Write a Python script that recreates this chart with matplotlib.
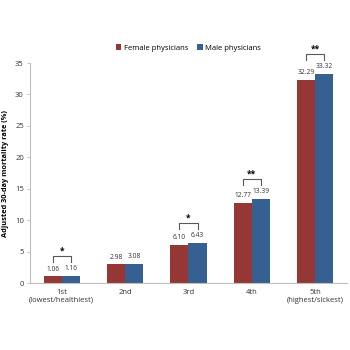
import matplotlib.pyplot as plt
import numpy as np

plt.rcParams['font.family'] = ['Open Sans', 'DejaVu Sans']

categories = ['1st\n(lowest/healthiest)', '2nd', '3rd', '4th', '5th\n(highest/sickest)']
female = [1.06, 2.98, 6.10, 12.77, 32.29]
male = [1.16, 3.08, 6.43, 13.39, 33.32]
# significance marks per quintile
stars = ['*', '', '*', '**', '**']

red = '#953735'
blue = '#376092'
grey = '#595959'

fig = plt.figure(figsize=(3.5, 3.5), dpi=100)
ax = fig.add_axes([0.086, 0.191, 0.905, 0.629])

x = np.arange(len(categories))
w = 0.285
ax.bar(x - w / 2, female, w, color=red, label='Female physicians')
ax.bar(x + w / 2, male, w, color=blue, label='Male physicians')

for i in range(len(x)):
    ax.text(x[i] - w / 2, female[i] + 0.6, f'{female[i]:.2f}', ha='center', va='bottom',
            fontsize=4.8, color='#333333')
    ax.text(x[i] + w / 2, male[i] + 0.6, f'{male[i]:.2f}', ha='center', va='bottom',
            fontsize=4.8, color='#333333')
    if stars[i]:
        lo = male[i] + 2.2
        hi = lo + 0.9
        ax.plot([x[i] - w / 2, x[i] - w / 2, x[i] + w / 2, x[i] + w / 2], [lo, hi, hi, lo],
                color=grey, lw=0.8, clip_on=False)
        ax.text(x[i], hi + 0.15, stars[i], ha='center', va='bottom', fontsize=6,
                fontweight='bold', color='black', clip_on=False)

ax.set_xlim(-0.5, 4.5)
ax.set_ylim(0, 35)
ax.set_yticks(range(0, 36, 5))
ax.set_xticks(x)
ax.set_xticklabels(categories)
ax.tick_params(axis='x', length=0, labelsize=5.5, colors='#333333', pad=4)
ax.tick_params(axis='y', length=2.5, labelsize=5.5, colors='#333333', width=0.6, pad=2)
ax.tick_params(axis='y', color='#bfbfbf')

for s in ['top', 'right']:
    ax.spines[s].set_visible(False)
for s in ['left', 'bottom']:
    ax.spines[s].set_color('#bfbfbf')
    ax.spines[s].set_linewidth(0.8)

ax.set_ylabel('Adjusted 30-day mortality rate (%)', fontsize=5.3, fontweight='bold')
ax.yaxis.set_label_coords(-0.066, 0.5)

ax.legend(loc='lower center', bbox_to_anchor=(0.5, 1.02), ncol=2, frameon=False,
          fontsize=5.5, handlelength=0.7, handleheight=0.7, handletextpad=0.3, columnspacing=1.2)

fig.savefig('out.png', dpi=100)
